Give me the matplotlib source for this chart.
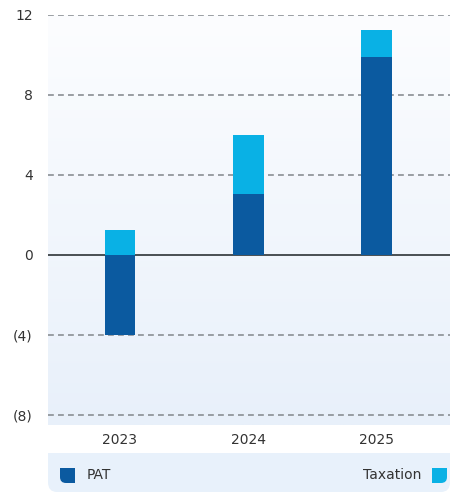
import numpy as np
import matplotlib.pyplot as plt
from matplotlib.path import Path
from matplotlib.patches import PathPatch, FancyBboxPatch, Rectangle

# data
years = ["2023", "2024", "2025"]
pat = [-4.0, 3.05, 9.9]
taxation = [1.25, 2.95, 1.35]
yticks = [12, 8, 4, 0, -4, -8]
yticklabels = ["12", "8", "4", "0", "(4)", "(8)"]

c_pat = "#0b5aa0"
c_tax = "#09b1e5"
txt = "#333333"

W, H = 450, 492
fig = plt.figure(figsize=(W / 100, H / 100), dpi=100)

ax_l, ax_r, ax_t, ax_b = 48, 450, 15, 425
ax = fig.add_axes([ax_l / W, 1 - ax_b / H, (ax_r - ax_l) / W, (ax_b - ax_t) / H])

x = np.arange(len(years))
xlim = (-0.56, 2.57)
ylim = (-8.5, 12)

# gradient background
grad = np.linspace(0, 1, 256).reshape(-1, 1)
top = np.array([252, 253, 255]) / 255
bot = np.array([232, 240, 250]) / 255
img = top + (bot - top) * grad[..., None]
ax.imshow(img, extent=[xlim[0], xlim[1], ylim[0], ylim[1]], aspect="auto",
          origin="upper", zorder=0)

# gridlines
for v in yticks:
    if v == 0:
        ax.axhline(0, color="#3c4246", lw=1.3, zorder=1)
    else:
        ax.axhline(v, color="#8a8f94", lw=1.2, ls=(0, (3.5, 2.5)), zorder=1)

bw = 0.24
# taxation stacks on positive PAT, starts at 0 when PAT is negative
tax_base = [max(p, 0) for p in pat]
ax.bar(x, pat, width=bw, color=c_pat, zorder=3)
ax.bar(x, taxation, width=bw, bottom=tax_base, color=c_tax, zorder=2)

ax.set_xlim(*xlim)
ax.set_ylim(*ylim)
ax.set_yticks(yticks)
ax.set_yticklabels(yticklabels)
ax.set_xticks(x)
ax.set_xticklabels(years)
ax.tick_params(axis="both", length=0, colors=txt, labelsize=10)
ax.tick_params(axis="y", pad=11)
ax.tick_params(axis="x", pad=6)
for s in ax.spines.values():
    s.set_visible(False)

# legend panel
lg_top, lg_bot = 453, 492
r = 9
panel_col = "#e8f1fb"
fig.patches.append(FancyBboxPatch((ax_l / W, 0), (W - ax_l) / W, (lg_bot - lg_top) / H,
                                  boxstyle="round,pad=0,rounding_size=0.02",
                                  transform=fig.transFigure, fc=panel_col, ec="none",
                                  zorder=0))
fig.patches.append(Rectangle((ax_l / W, (lg_bot - lg_top - r * 2) / H), (W - ax_l) / W,
                             (r * 2) / H, transform=fig.transFigure,
                             fc=panel_col, ec="none", zorder=0))


def corner_square(x0, y0, s, rad, corner):
    # square in pixel coords (y down) with one rounded bottom corner
    x1, y1 = x0 + s, y0 + s
    if corner == "bl":
        verts = [(x0, y0), (x1, y0), (x1, y1), (x0 + rad, y1), (x0, y1), (x0, y1 - rad), (x0, y0)]
        codes = [Path.MOVETO, Path.LINETO, Path.LINETO, Path.LINETO,
                 Path.CURVE3, Path.CURVE3, Path.CLOSEPOLY]
    else:
        verts = [(x0, y0), (x1, y0), (x1, y1 - rad), (x1, y1), (x1 - rad, y1), (x0, y1), (x0, y0)]
        codes = [Path.MOVETO, Path.LINETO, Path.LINETO, Path.CURVE3,
                 Path.CURVE3, Path.LINETO, Path.CLOSEPOLY]
    verts = [(vx / W, 1 - vy / H) for vx, vy in verts]
    return Path(verts, codes)


fig.patches.append(PathPatch(corner_square(60, 468, 15, 6, "bl"), transform=fig.transFigure,
                             fc=c_pat, ec="none"))
fig.patches.append(PathPatch(corner_square(432, 468, 15, 6, "br"), transform=fig.transFigure,
                             fc=c_tax, ec="none"))
fig.text(87 / W, 1 - 475 / H, "PAT", color=txt, fontsize=10, va="center", ha="left")
fig.text(421 / W, 1 - 475 / H, "Taxation", color=txt, fontsize=10, va="center", ha="right")

fig.savefig("out.png", dpi=100)
